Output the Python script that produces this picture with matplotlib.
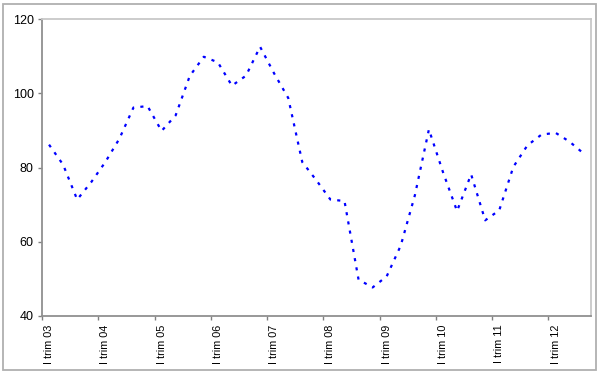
import numpy as np
import matplotlib
matplotlib.use("Agg")
import matplotlib.pyplot as plt
from matplotlib.patches import Rectangle

# quarterly values, I trim 03 .. III trim 12
values = [86.2, 80.8, 71.4, 76.1, 81.5, 87.8, 96.2, 96.6, 89.9, 94.1,
          104.7, 109.9, 108.4, 102.1, 104.8, 112.6, 105.4, 98.8, 81.5, 76.6,
          71.4, 71.0, 49.8, 47.7, 50.7, 59.0, 72.5, 90.3, 78.8, 68.3,
          78.2, 65.8, 68.5, 80.2, 86.0, 88.9, 89.4, 87.0, 83.8]
years = ["03", "04", "05", "06", "07", "08", "09", "10", "11", "12"]
year_labels = ["I trim " + y for y in years]
y_ticks = [40, 60, 80, 100, 120]

plt.rcParams['font.family'] = ['Liberation Sans', 'DejaVu Sans']

fig = plt.figure(figsize=(6, 3.73), dpi=100)
ax = fig.add_axes([42/600, 57/373, 548.7/600, 296.7/373])

x = np.arange(len(values))
ax.plot(x, values, color='#0000ff', lw=1.6, linestyle=(0, (1.4, 2.8)),
        dash_capstyle='butt')

ax.set_xlim(-0.5, len(values) - 0.5)
ax.set_ylim(40, 120)
ax.set_yticks(y_ticks)
ax.set_yticklabels([str(v) for v in y_ticks], fontsize=9)

# tick marks on year boundaries, labels centred on first quarter
ax.set_xticks(np.arange(len(years)) * 4 - 0.5)
ax.set_xticklabels([])
ax.set_xticks(np.arange(len(years)) * 4, minor=True)
ax.set_xticklabels(year_labels, minor=True, rotation=90, fontsize=7.8)
ax.tick_params(axis='x', which='minor', length=0, pad=6)
ax.tick_params(axis='x', which='major', length=3, width=1, color='#808080')
ax.tick_params(axis='y', length=3, width=1, color='#808080', pad=3)

for s in ['left', 'bottom']:
    ax.spines[s].set_color('#909090')
    ax.spines[s].set_linewidth(1.3)
for s in ['top', 'right']:
    ax.spines[s].set_color('#c8c8c8')
    ax.spines[s].set_linewidth(1.3)

# chart area frame
fig.patches.append(Rectangle((3/600, 3/373), 593/600, 366/373,
                             transform=fig.transFigure, fill=False,
                             edgecolor='#b0b0b0', lw=1.3))

fig.savefig("out.png", dpi=100)
